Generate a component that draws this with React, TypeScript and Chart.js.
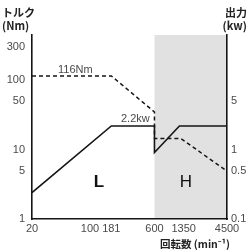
import { useEffect, useRef } from "react";
import { Chart, registerables } from "chart.js";

Chart.register(...registerables);

// Axis ticks
const rpmTicks = [20, 100, 181, 600, 1350, 4500];
const torqueTicks = [1, 5, 10, 50, 100, 300];
const powerTicks = [0.1, 0.5, 1, 5];

// Torque curve (Nm) – dashed
const torqueRpm = [20, 181, 600, 600, 1250, 4500];
const torqueNm = [116, 116, 35, 14.5, 14.5, 4.9];

// Output curve (kw) – solid
const powerRpm = [20, 181, 600, 600, 1200, 4500];
const powerKw = [0.24, 2.2, 2.2, 0.91, 2.2, 2.2];

// High-speed range (shaded)
const highRange = [600, 4500];

const TXT = "#4a4a4a";
const LINE = "#151515";
const JP = '"Noto Sans CJK JP", "Noto Sans", sans-serif';
const NUM = '"Liberation Sans", Arial, sans-serif';

export default function App() {
  const ref = useRef<HTMLCanvasElement | null>(null);

  useEffect(() => {
    if (!ref.current) return;

    const overlay = {
      id: "overlay",
      beforeDraw(chart: any) {
        const { ctx, chartArea, scales } = chart;
        const x0 = scales.x.getPixelForValue(highRange[0]);
        const x1 = scales.x.getPixelForValue(highRange[1]);
        ctx.save();
        ctx.fillStyle = "#e1e1e1";
        ctx.fillRect(x0, chartArea.top, x1 - x0, chartArea.bottom - chartArea.top);
        ctx.restore();
      },
      afterDraw(chart: any) {
        const { ctx } = chart;
        ctx.save();
        ctx.textBaseline = "middle";
        // Axis titles
        ctx.fillStyle = "#222";
        ctx.textAlign = "left";
        ctx.font = `bold 11px ${JP}`;
        ctx.fillText("トルク", 2, 13);
        ctx.fillText("(Nm)", 2, 26);
        ctx.textAlign = "right";
        ctx.fillText("出力", 247, 13);
        ctx.fillText("(kw)", 247, 26);
        ctx.textAlign = "center";
        ctx.font = `bold 10.5px ${JP}`;
        ctx.fillText("回転数 (min⁻¹)", 195, 244);

        // Annotations
        ctx.fillStyle = TXT;
        ctx.font = `11px ${NUM}`;
        ctx.textAlign = "left";
        ctx.fillText("116Nm", 58, 70);
        ctx.fillText("2.2kw", 121, 119);

        ctx.fillStyle = "#111";
        ctx.textAlign = "center";
        ctx.font = `bold 17px ${NUM}`;
        ctx.fillText("L", 99, 182);
        ctx.font = `17px ${NUM}`;
        ctx.fillText("H", 186, 182);
        ctx.restore();
      },
    };

    const chart = new Chart(ref.current, {
      type: "line",
      data: {
        datasets: [
          {
            label: "トルク",
            data: torqueRpm.map((x, i) => ({ x, y: torqueNm[i] })),
            yAxisID: "y",
            borderColor: LINE,
            borderWidth: 1.5,
            borderDash: [4, 3],
            pointRadius: 0,
            fill: false,
            tension: 0,
          },
          {
            label: "出力",
            data: powerRpm.map((x, i) => ({ x, y: powerKw[i] })),
            yAxisID: "y1",
            borderColor: LINE,
            borderWidth: 1.6,
            pointRadius: 0,
            fill: false,
            tension: 0,
          },
        ],
      },
      options: {
        animation: false,
        responsive: false,
        maintainAspectRatio: false,
        layout: { padding: { top: 35, left: 0, right: 0, bottom: 0 } },
        plugins: {
          legend: { display: false },
          tooltip: { enabled: false },
          title: { display: false },
        },
        scales: {
          x: {
            type: "logarithmic",
            position: "bottom",
            min: 20,
            max: 4500,
            afterBuildTicks: (s: any) => {
              s.ticks = rpmTicks.map((v) => ({ value: v }));
            },
            afterFit: (s: any) => {
              s.height = 33;
            },
            ticks: {
              callback: (v: any) => String(v),
              color: TXT,
              font: { size: 11, family: NUM },
              maxRotation: 0,
              autoSkip: false,
              padding: 3,
            },
            grid: { display: false, drawTicks: false },
            border: { display: true, color: LINE, width: 1.6 },
          },
          y: {
            type: "logarithmic",
            position: "left",
            min: 1,
            max: 452,
            afterBuildTicks: (s: any) => {
              s.ticks = torqueTicks.map((v) => ({ value: v }));
            },
            afterFit: (s: any) => {
              s.width = 32;
            },
            ticks: {
              callback: (v: any) => String(v),
              color: TXT,
              font: { size: 11, family: NUM },
              padding: 7,
              autoSkip: false,
            },
            grid: { display: false, drawTicks: false },
            border: { display: true, color: LINE, width: 1.6 },
          },
          y1: {
            type: "logarithmic",
            position: "right",
            min: 0.1,
            max: 45.2,
            afterBuildTicks: (s: any) => {
              s.ticks = powerTicks.map((v) => ({ value: v }));
            },
            afterFit: (s: any) => {
              s.width = 21;
            },
            ticks: {
              callback: (v: any) => String(v),
              color: TXT,
              font: { size: 11, family: NUM },
              padding: 4,
              autoSkip: false,
            },
            grid: { display: false, drawTicks: false },
            border: { display: true, color: LINE, width: 1.6 },
          },
        },
      },
      plugins: [overlay],
    });

    return () => chart.destroy();
  }, []);

  return (
    <div style={{ position: "fixed", left: 0, top: 0, width: 248, height: 252, background: "#fff" }}>
      <canvas ref={ref} width={248} height={252} style={{ width: 248, height: 252, display: "block" }} />
    </div>
  );
}
